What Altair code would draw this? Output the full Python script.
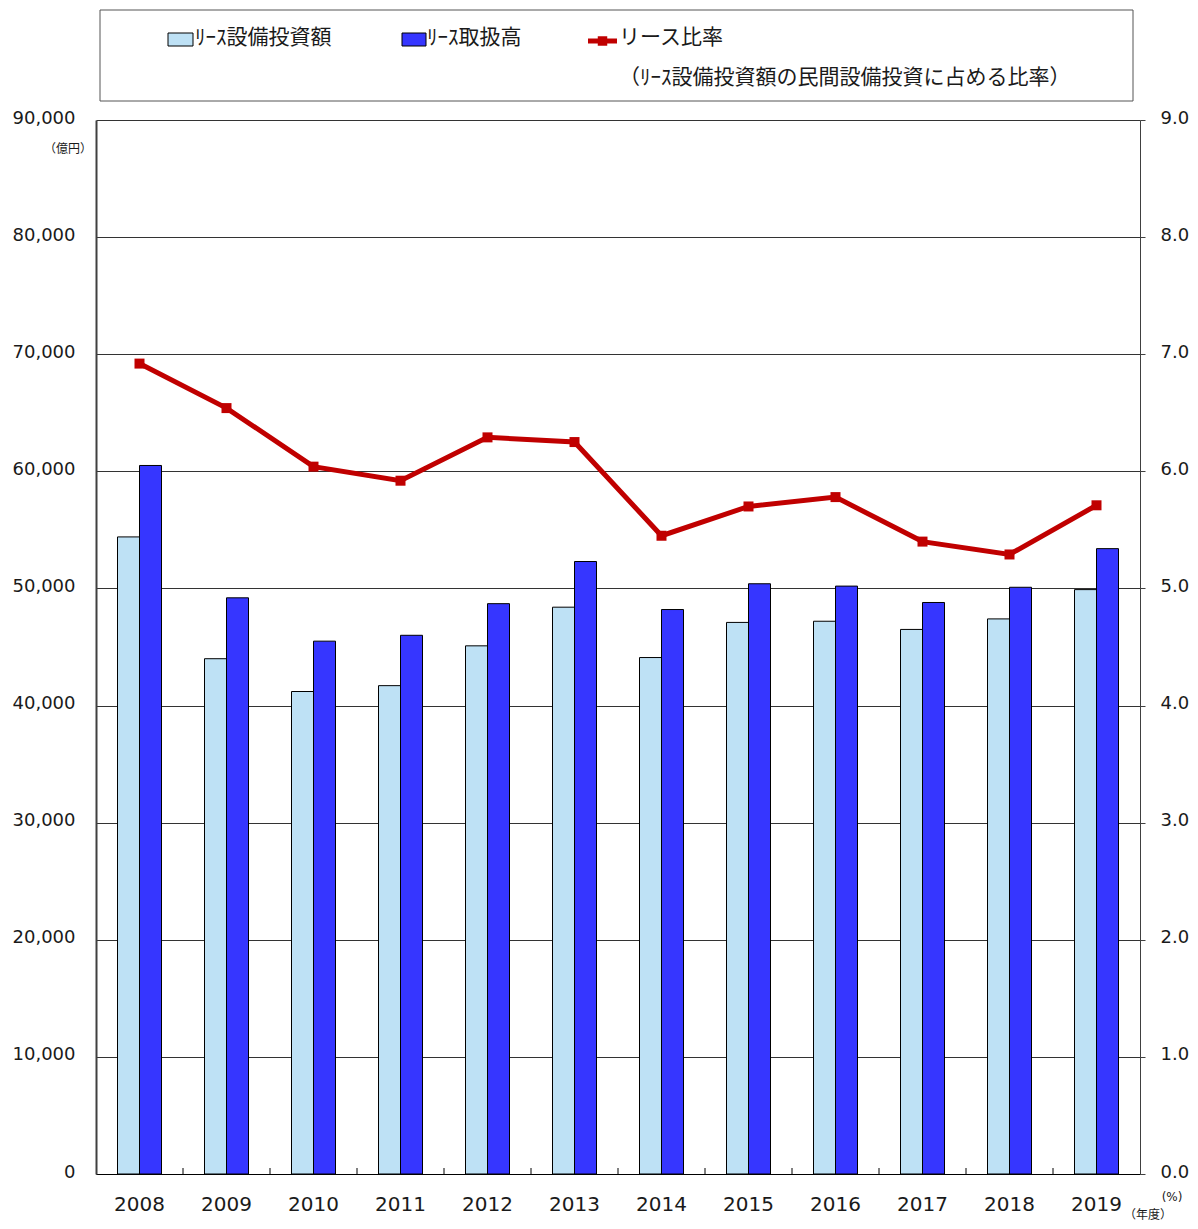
import altair as alt
import pandas as pd

years = ["2008", "2009", "2010", "2011", "2012", "2013",
         "2014", "2015", "2016", "2017", "2018", "2019"]
lease_invest = [54400, 44000, 41200, 41700, 45100, 48400,
                44100, 47100, 47200, 46500, 47400, 49900]
lease_volume = [60500, 49200, 45500, 46000, 48700, 52300,
                48200, 50400, 50200, 48800, 50100, 53400]
lease_ratio = [6.92, 6.54, 6.04, 5.92, 6.29, 6.25,
               5.45, 5.70, 5.78, 5.40, 5.29, 5.71]
series_names = ["ﾘｰｽ設備投資額", "ﾘｰｽ取扱高"]
ratio_name = "リース比率"
ratio_note = "（ﾘｰｽ設備投資額の民間設備投資に占める比率）"
left_ticks = [0, 10000, 20000, 30000, 40000, 50000, 60000, 70000, 80000, 90000]
right_ticks = [0, 1, 2, 3, 4, 5, 6, 7, 8, 9]
tick_bounds = [1, 2, 3, 4, 5, 6, 7, 8, 9, 10, 11]

bar_colors = ["#BEE1F5", "#3636FF"]
line_color = "#C00000"
FONT = "DejaVu Sans"
JP = "Noto Sans CJK JP"
W, H = 1044, 1054

bars_df = pd.DataFrame({
    "year": years * 2,
    "series": [series_names[0]] * len(years) + [series_names[1]] * len(years),
    "value": lease_invest + lease_volume,
})
line_df = pd.DataFrame({"year": years, "ratio": lease_ratio})
tick_df = pd.DataFrame({"b": tick_bounds})

xscale = alt.Scale(domain=years, paddingInner=43 / 87, paddingOuter=43 / 174)

bars = alt.Chart(bars_df).mark_bar(stroke="black", strokeWidth=1).encode(
    x=alt.X("year:N", scale=xscale,
            axis=alt.Axis(title=None, labelAngle=0, labelFont=FONT, labelFontSize=20,
                          labelColor="#1a1a1a", labelPadding=20, ticks=False,
                          domainColor="black", domainWidth=1, grid=False)),
    xOffset=alt.XOffset("series:N", sort=series_names,
                        scale=alt.Scale(domain=series_names, paddingInner=0, paddingOuter=0)),
    y=alt.Y("value:Q", scale=alt.Scale(domain=[0, 90000], nice=False),
            axis=alt.Axis(title=None, values=left_ticks, format=",d", grid=True,
                          gridColor="#333333", gridWidth=1, ticks=False,
                          domainColor="#404040", domainWidth=2, labelFont=FONT,
                          labelFontSize=18, labelColor="#1a1a1a", labelPadding=21,
                          labelOffset=-2)),
    color=alt.Color("series:N", scale=alt.Scale(domain=series_names, range=bar_colors),
                    legend=None),
)

line = alt.Chart(line_df).mark_line(
    color=line_color, strokeWidth=5,
    point=alt.OverlayMarkDef(shape="square", size=100, color=line_color,
                             filled=True, opacity=1),
).encode(
    x=alt.X("year:N", scale=xscale, axis=None),
    y=alt.Y("ratio:Q", scale=alt.Scale(domain=[0, 9], nice=False),
            axis=alt.Axis(orient="right", title=None, values=right_ticks, format=".1f",
                          grid=False, ticks=True, tickSize=5, tickColor="#404040",
                          domainColor="#404040", domainWidth=1, labelFont=FONT,
                          labelFontSize=18, labelColor="#1a1a1a", labelPadding=15,
                          labelOffset=-2)),
)

ticks = alt.Chart(tick_df).mark_rule(color="black", strokeWidth=1).encode(
    x=alt.X("b:Q", scale=alt.Scale(domain=[0, 12], nice=False, zero=False), axis=None),
    y=alt.value(H - 6), y2=alt.value(H),
)


def one():
    return pd.DataFrame({"a": [0]})


def label(text, x, y, size, align="left", font=JP, color="#1a1a1a"):
    return alt.Chart(pd.DataFrame({"t": [text]})).mark_text(
        align=align, baseline="middle", font=font, fontSize=size, color=color
    ).encode(x=alt.value(x), y=alt.value(y), text="t:N")


legend_box = alt.Chart(one()).mark_rect(fill="white", stroke="#555555", strokeWidth=1).encode(
    x=alt.value(4), x2=alt.value(1037), y=alt.value(-110), y2=alt.value(-19))
sw1 = alt.Chart(one()).mark_rect(fill=bar_colors[0], stroke="black", strokeWidth=1).encode(
    x=alt.value(72), x2=alt.value(97), y=alt.value(-87), y2=alt.value(-74))
sw2 = alt.Chart(one()).mark_rect(fill=bar_colors[1], stroke="black", strokeWidth=1).encode(
    x=alt.value(306), x2=alt.value(330), y=alt.value(-87), y2=alt.value(-74))
sw3 = alt.Chart(one()).mark_rule(color=line_color, strokeWidth=5).encode(
    x=alt.value(492), x2=alt.value(521), y=alt.value(-79))
sw3p = alt.Chart(one()).mark_point(shape="square", size=90, filled=True, opacity=1,
                                   color=line_color).encode(
    x=alt.value(506.5), y=alt.value(-79))

texts = [
    label(series_names[0], 99, -82, 21),
    label(series_names[1], 331, -82, 21),
    label(ratio_name, 523, -82, 21),
    label(ratio_note, 523, -42, 21),
    label("（億円）", -28, 29, 12, align="center"),
    label("(%)", 1076, 1077, 12, align="center", font=FONT),
    label("（年度）", 1052, 1095, 12, align="center"),
]

chart = alt.layer(
    legend_box, bars, line, ticks, sw1, sw2, sw3, sw3p, *texts
).resolve_scale(
    x="independent", y="independent"
).properties(
    width=W, height=H,
    autosize=alt.AutoSizeParams(type="none"),
    padding={"left": 88, "top": 112, "right": 50, "bottom": 47},
    background="white",
).configure_view(stroke=None)

chart.save("out.html", embed_options={"renderer": "svg", "actions": False})
